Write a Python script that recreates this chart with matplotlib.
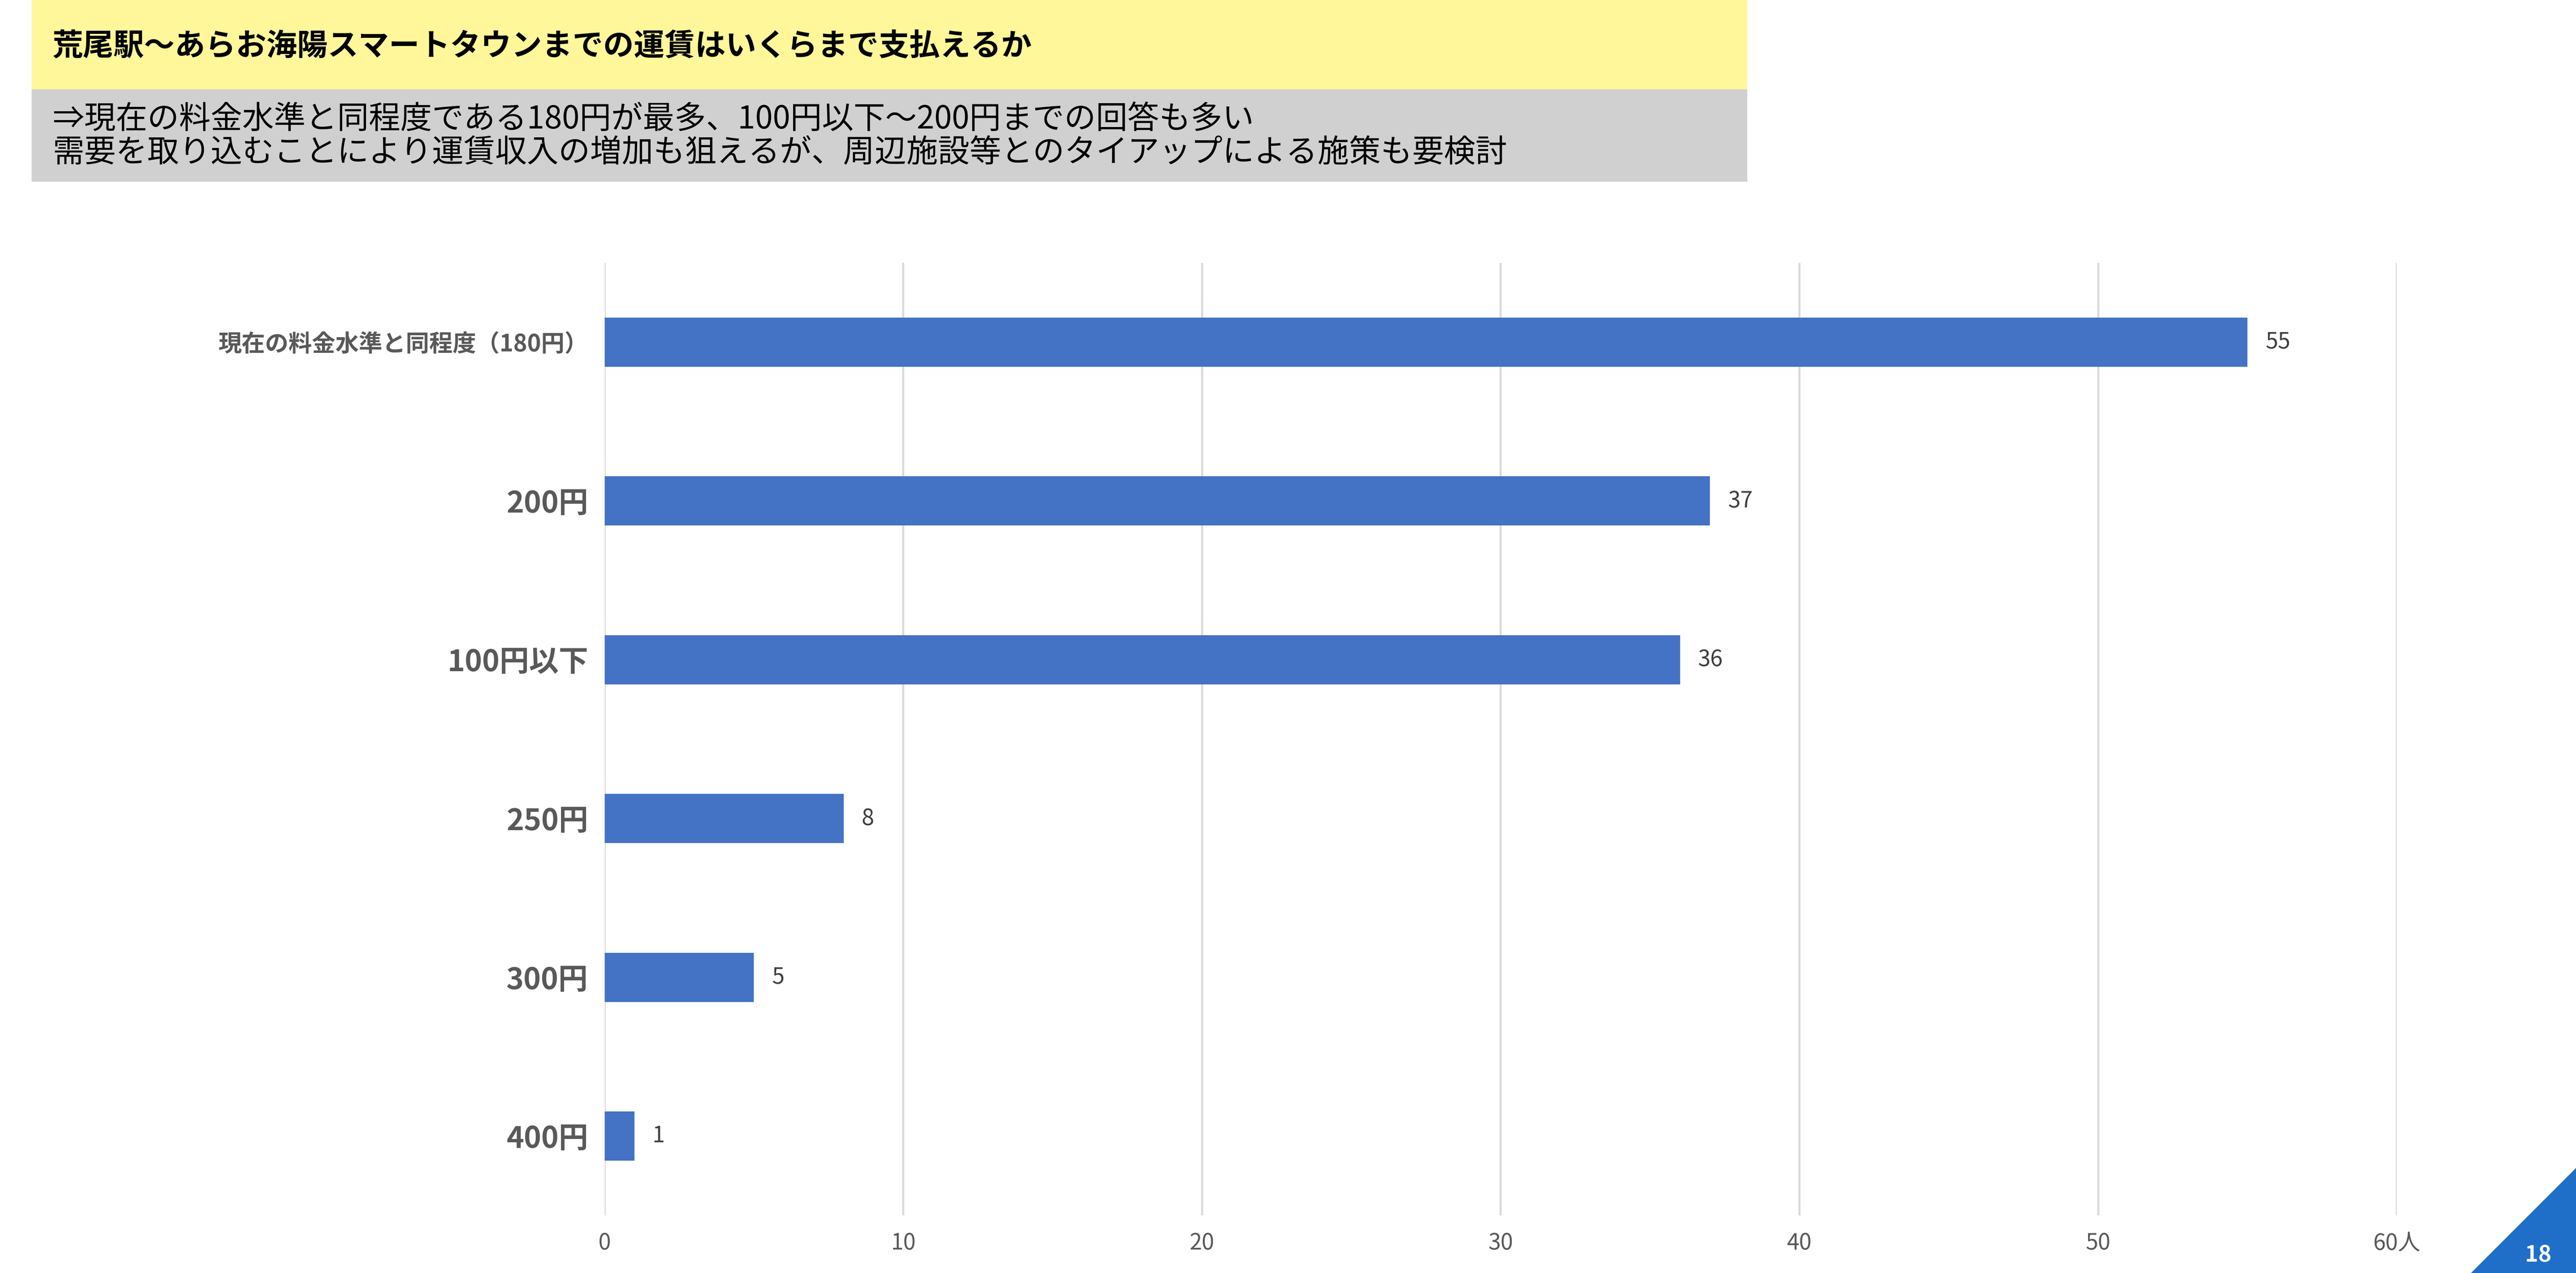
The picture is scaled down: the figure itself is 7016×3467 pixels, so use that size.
import matplotlib
matplotlib.use("Agg")
import matplotlib.pyplot as plt
from matplotlib.patches import Rectangle, Polygon

plt.rcParams["font.family"] = "Noto Sans CJK JP"

categories = ["現在の料金水準と同程度（180円）", "200円", "100円以下", "250円", "300円", "400円"]
values = [55, 37, 36, 8, 5, 1]
xticks = [0, 10, 20, 30, 40, 50, 60]
xticklabels = ["0", "10", "20", "30", "40", "50", "60人"]

title = "荒尾駅～あらお海陽スマートタウンまでの運賃はいくらまで支払えるか"
subtitle = ("⇒現在の料金水準と同程度である180円が最多、100円以下～200円までの回答も多い\n"
            "需要を取り込むことにより運賃収入の増加も狙えるが、周辺施設等とのタイアップによる施策も要検討")

W, H = 1568, 775
fig = plt.figure(figsize=(7016/400, 3467/400), dpi=400)
fig.patch.set_facecolor("white")

def fx(x): return x / W
def fy(y): return 1 - y / H

fig.patches.append(Rectangle((fx(20), fy(55)), fx(1043), 55/H, transform=fig.transFigure, color="#FFF79A", zorder=0))
fig.patches.append(Rectangle((fx(20), fy(110)), fx(1043), 55/H, transform=fig.transFigure, color="#D0D0D0", zorder=0))
fig.text(fx(32), fy(28), title, fontsize=15, fontweight="bold", va="center", ha="left")
fig.text(fx(32), fy(83), subtitle, fontsize=15.5, va="center", ha="left", linespacing=1.05)

ax = fig.add_axes([fx(368), fy(740), fx(1459) - fx(368), (740 - 160) / H])
ypos = list(range(len(categories)))
ax.barh(ypos, values, height=0.31, color="#4472C4", zorder=3)
ax.set_ylim(len(categories) - 0.5, -0.5)
ax.set_xlim(0, 60)
ax.set_xticks(xticks)
ax.set_xticklabels(xticklabels, fontsize=11, color="#595959")
ax.set_yticks(ypos)
ax.set_yticklabels(categories, color="#595959", fontweight="bold")
for i, lab in enumerate(ax.get_yticklabels()):
    lab.set_fontsize(11.5 if i == 0 else 14.5)
ax.tick_params(length=0, pad=8)
ax.grid(axis="x", color="#D9D9D9", linewidth=1, zorder=0)
for s in ax.spines.values():
    s.set_visible(False)
for y, v in zip(ypos, values):
    ax.text(v + 0.6, y, str(v), va="center", ha="left", fontsize=11, color="#404040")

fig.patches.append(Polygon([(fx(1568), fy(712)), (fx(1568), fy(775)), (fx(1505), fy(775))],
                           closed=True, transform=fig.transFigure, color="#1F6FC8"))
fig.text(fx(1545), fy(764), "18", color="white", fontsize=11, fontweight="bold", ha="center", va="center")

fig.savefig("out.png", dpi=400)
